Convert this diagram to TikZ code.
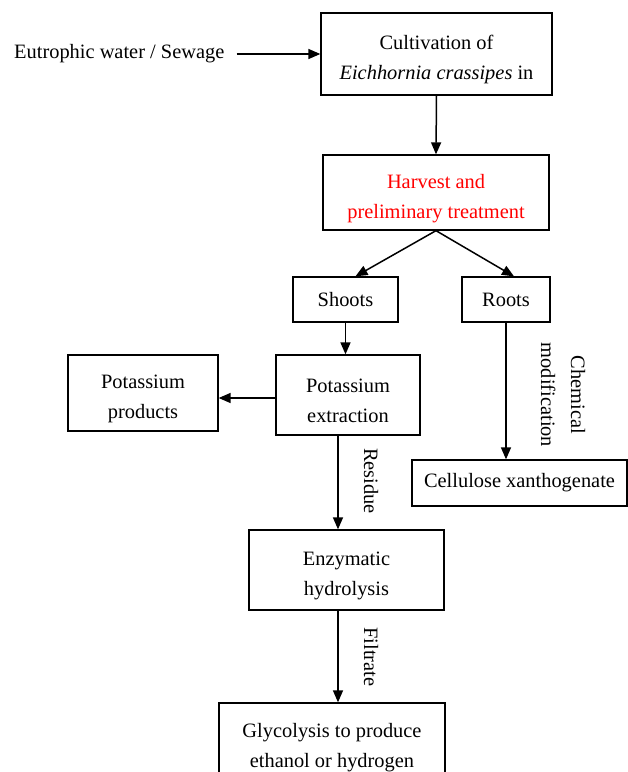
\documentclass[tikz,border=0pt]{standalone}
\usepackage{fontspec}
\setmainfont{Liberation Serif}
\usepackage{tikz}
\usetikzlibrary{calc,positioning,arrows.meta}
\definecolor{hred}{rgb}{1,0,0}
\newcommand{\tstrut}{\rule{0pt}{26pt}}
\tikzset{
  x=1pt,y=-1pt,
  >={Triangle[length=12pt,width=10pt]},
  flow/.style={->,line width=1.5pt},
  rectnode/.style args={#1,#2}{
  draw=black,
  line width=1.3pt,
  align=center,
  inner sep=0pt,
  font=\fontsize{20.4}{30}\selectfont,
  minimum width=#1pt,
  minimum height=#2pt,
  },
  lbl/.style={align=center,inner sep=0pt,font=\fontsize{20.4}{30}\selectfont},
  sidelbl/.style={lbl,rotate=-90}
}
\begin{document}
\begin{tikzpicture}
  \useasboundingbox (0,0) rectangle (628,772);

  \node [lbl,anchor=west] (src) at (14,54) {Eutrophic water / Sewage};
  \node [rectnode={231,82}] (cult) at (436.5,54) {\tstrut Cultivation of\\\textit{Eichhornia crassipes} in};
  \node [rectnode={226,75},text=hred] (harv) at (436,192.5) {\tstrut Harvest and\\preliminary treatment};

  \node [rectnode={105,45}] (sh) at (345.5,299.5) {Shoots};
  \node [rectnode={88,45}] (rt) at (506,299.5) {Roots};

  \node [rectnode={144,80}] (kext) at (348,395) {\tstrut Potassium\\extraction};
  \node [rectnode={150,76}] (kprod) at (143,393) {\tstrut Potassium\\products};
  \node [rectnode={215,46}] (cx) at (519.5,483) {Cellulose xanthogenate};

  \node [rectnode={195,80}] (enz) at (346.5,570) {\tstrut Enzymatic\\hydrolysis};
  \node [rectnode={226,78}] (gly) at (332,742) {\tstrut Glycolysis to produce\\ethanol or hydrogen};

  % side labels
  \node [sidelbl] (lchem) at (563,395) {Chemical\\modification};
  \node [sidelbl] (lres) at (371,481) {Residue};
  \node [sidelbl] (lfil) at (371,657) {Filtrate};

  \draw [flow,shorten <=12pt] (src.east) -- (cult.west);
  \draw [flow] (cult.south) -- (harv.north);
  \draw [flow] (harv.south) -- ([xshift=10pt]sh.north);
  \draw [flow] (harv.south) -- ([xshift=8pt]rt.north);
  \draw [flow] (sh.south) -- (sh.south |- kext.north);
  \draw [flow] (kext.west |- 0,398) -- (kprod.east |- 0,398);
  \draw [flow] (rt.south) -- (rt.south |- cx.north);
  \draw [flow] ([xshift=-10pt]kext.south) -- ([xshift=-10pt]kext.south |- enz.north);
  \draw [flow] ([xshift=-8.5pt]enz.south) -- ([xshift=-8.5pt]enz.south |- gly.north);
\end{tikzpicture}
\end{document}
